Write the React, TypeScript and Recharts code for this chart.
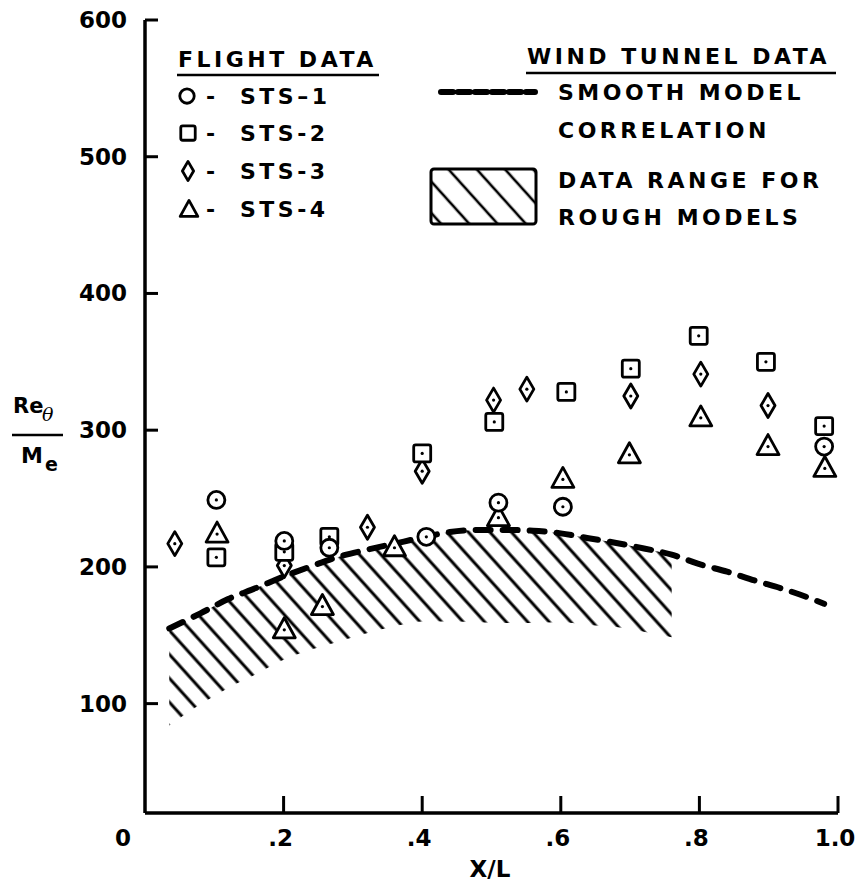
import { ComposedChart, Area, Line, Scatter, XAxis, YAxis } from 'recharts';

// flight data, X/L vs Re_theta / M_e
const sts1 = [
  { x: 0.103, y: 249 }, { x: 0.201, y: 219 }, { x: 0.266, y: 214 }, { x: 0.406, y: 222 },
  { x: 0.51, y: 247 }, { x: 0.603, y: 244 }, { x: 0.98, y: 288 },
];
const sts2 = [
  { x: 0.103, y: 207 }, { x: 0.201, y: 211 }, { x: 0.266, y: 222 }, { x: 0.4, y: 283 },
  { x: 0.504, y: 306 }, { x: 0.608, y: 328 }, { x: 0.701, y: 345 }, { x: 0.799, y: 369 },
  { x: 0.896, y: 350 }, { x: 0.98, y: 303 },
];
const sts3 = [
  { x: 0.043, y: 217 }, { x: 0.201, y: 201 }, { x: 0.321, y: 229 }, { x: 0.4, y: 270 },
  { x: 0.503, y: 322 }, { x: 0.551, y: 330 }, { x: 0.701, y: 325 }, { x: 0.802, y: 341 },
  { x: 0.899, y: 318 },
];
const sts4 = [
  { x: 0.104, y: 224 }, { x: 0.201, y: 154 }, { x: 0.256, y: 171 }, { x: 0.36, y: 214 },
  { x: 0.51, y: 236 }, { x: 0.603, y: 264 }, { x: 0.699, y: 282 }, { x: 0.802, y: 309 },
  { x: 0.899, y: 288 }, { x: 0.981, y: 272 },
];

// wind tunnel: smooth model curve and rough model band (lower edge)
const curveX = [0.035, 0.08, 0.12, 0.16, 0.2, 0.24, 0.28, 0.32, 0.36, 0.4, 0.44, 0.48, 0.52, 0.56, 0.6, 0.64, 0.68, 0.72, 0.76, 0.8, 0.84, 0.88, 0.92, 0.96, 0.98];
const smoothRe = [155, 166, 176.5, 184.5, 193, 200.5, 207.5, 212.5, 217, 221.5, 225.5, 227, 227, 226.5, 224.5, 221, 217.5, 213.5, 209, 202, 196.5, 190, 184, 177, 173];
const roughLow = [84, 99.5, 111.5, 121.5, 132, 139.5, 145.5, 151.5, 156.5, 160, 160, 159.5, 159, 159, 159.5, 157.5, 156, 152.5, 148.5];

const xTicks = [0, 0.2, 0.4, 0.6, 0.8, 1.0];
const xTickLabels = ['0', '.2', '.4', '.6', '.8', '1.0'];
const yTicks = [100, 200, 300, 400, 500, 600];
const yMin = 20;
const yMax = 600;

const curveData = curveX.map((x, i) => ({
  x,
  smooth: smoothRe[i],
  band: i < roughLow.length ? [roughLow[i], smoothRe[i]] : null,
}));

const FONT = '"DejaVu Sans", Arial, sans-serif';

const Dot = ({ cx, cy }: { cx: number; cy: number }) => <circle cx={cx} cy={cy} r={1.6} fill="#000" />;

const CircleMark = ({ cx, cy, s = 1, dot = true }: any) => (
  <g>
    <circle cx={cx} cy={cy} r={8.5 * s} fill="#fff" stroke="#000" strokeWidth={2.8} />
    {dot && <Dot cx={cx} cy={cy} />}
  </g>
);
const SquareMark = ({ cx, cy, s = 1, dot = true }: any) => (
  <g>
    <rect x={cx - 8.5 * s} y={cy - 8.5 * s} width={17 * s} height={17 * s} rx={2} fill="#fff" stroke="#000" strokeWidth={2.8} />
    {dot && <Dot cx={cx} cy={cy} />}
  </g>
);
const DiamondMark = ({ cx, cy, s = 1, dot = true }: any) => (
  <g>
    <path d={`M${cx},${cy - 12 * s} L${cx + 7 * s},${cy} L${cx},${cy + 12 * s} L${cx - 7 * s},${cy} Z`} fill="#fff" stroke="#000" strokeWidth={2.8} strokeLinejoin="round" />
    {dot && <Dot cx={cx} cy={cy} />}
  </g>
);
const TriangleMark = ({ cx, cy, s = 1, dot = true }: any) => (
  <g>
    <path d={`M${cx},${cy - 12 * s} L${cx + 11 * s},${cy + 8 * s} L${cx - 11 * s},${cy + 8 * s} Z`} fill="#fff" stroke="#000" strokeWidth={2.8} strokeLinejoin="round" />
    {dot && <Dot cx={cx} cy={cy} />}
  </g>
);

const YTick = (props: any) => {
  const { x, y, payload } = props;
  return (
    <g>
      <line x1={x} x2={x + 13} y1={y} y2={y} stroke="#000" strokeWidth={3} />
      <text x={x - 18} y={y} dy={8} textAnchor="end" fontFamily={FONT} fontWeight="bold" fontSize={23} fill="#000">
        {payload.value}
      </text>
    </g>
  );
};

const XTick = (props: any) => {
  const { x, y, payload, index } = props;
  const label = xTickLabels[index] ?? String(payload.value);
  if (payload.value === 0) {
    return (
      <text x={x - 22} y={y + 33} textAnchor="middle" fontFamily={FONT} fontWeight="bold" fontSize={23} fill="#000">
        {label}
      </text>
    );
  }
  return (
    <g>
      <line x1={x} x2={x} y1={y} y2={y - 17} stroke="#000" strokeWidth={3} />
      <text x={x - 3} y={y + 33} textAnchor="middle" fontFamily={FONT} fontWeight="bold" fontSize={23} fill="#000">
        {label}
      </text>
    </g>
  );
};

const txt = { fontFamily: FONT, fontWeight: 'bold' as const, fontSize: 22, letterSpacing: 3.5, fill: '#000' };

function LegendOverlay() {
  const rowY = [96, 133, 171, 209];
  return (
    <svg width={857} height={883} style={{ position: 'absolute', left: 0, top: 0, pointerEvents: 'none' }}>
      <defs>
        <pattern id="legendHatch" patternUnits="userSpaceOnUse" width="21" height="21" patternTransform="rotate(-42)">
          <line x1="10" y1="0" x2="10" y2="21" stroke="#000" strokeWidth="2.6" />
        </pattern>
      </defs>
      {/* flight data */}
      <text x={178} y={67} {...txt}>FLIGHT DATA</text>
      <line x1={177} x2={379} y1={75} y2={75} stroke="#000" strokeWidth={2.5} />
      <CircleMark cx={187} cy={rowY[0]} s={0.85} dot={false} />
      <SquareMark cx={188} cy={rowY[1]} s={0.85} dot={false} />
      <DiamondMark cx={188} cy={rowY[2]} s={0.8} dot={false} />
      <TriangleMark cx={189} cy={rowY[3] + 1} s={0.8} dot={false} />
      {['STS\u20131', 'STS-2', 'STS-3', 'STS-4'].map((t, i) => (
        <g key={t}>
          <text x={206} y={rowY[i] + 8} {...txt}>-</text>
          <text x={240} y={rowY[i] + 8} {...txt}>{t}</text>
        </g>
      ))}
      {/* wind tunnel data */}
      <text x={527} y={64} {...txt}>WIND TUNNEL DATA</text>
      <line x1={526} x2={836} y1={73} y2={73} stroke="#000" strokeWidth={2.5} />
      <line x1={441} x2={535} y1={92} y2={92} stroke="#000" strokeWidth={6} strokeDasharray="12 5" strokeLinecap="round" />
      <text x={558} y={100} {...txt}>SMOOTH MODEL</text>
      <text x={558} y={138} {...txt}>CORRELATION</text>
      <rect x={431} y={169} width={105} height={55} rx={3} fill="url(#legendHatch)" stroke="#000" strokeWidth={3} />
      <text x={558} y={188} {...txt}>DATA RANGE FOR</text>
      <text x={558} y={225} {...txt}>ROUGH MODELS</text>
      {/* axis titles */}
      <text x={490} y={877} textAnchor="middle" fontFamily={FONT} fontWeight="bold" fontSize={23} fill="#000">X/L</text>
      <text x={13} y={413} fontFamily={FONT} fontWeight="bold" fontSize={21} fill="#000">Re</text>
      <text x={42} y={421} fontFamily='"DejaVu Serif", serif' fontStyle="italic" fontSize={19} fill="#000">θ</text>
      <line x1={12} x2={63} y1={435} y2={435} stroke="#000" strokeWidth={2.5} />
      <text x={21} y={463} fontFamily={FONT} fontWeight="bold" fontSize={22} fill="#000">M</text>
      <text x={45} y={471} fontFamily={FONT} fontWeight="bold" fontSize={19} fill="#000">e</text>
    </svg>
  );
}

export default function App() {
  return (
    <div style={{ position: 'absolute', left: 0, top: 0, width: 857, height: 883, background: '#fff' }}>
      <ComposedChart width={857} height={883} data={curveData} margin={{ top: 20, right: 19, bottom: 50, left: 125 }}>
        <defs>
          <pattern id="hatch" patternUnits="userSpaceOnUse" width="16" height="16" patternTransform="rotate(-42)">
            <line x1="8" y1="0" x2="8" y2="16" stroke="#000" strokeWidth="3" />
          </pattern>
        </defs>
        <XAxis
          type="number"
          dataKey="x"
          domain={[0, 1]}
          ticks={xTicks}
          interval={0}
          height={20}
          tickSize={0}
          tickMargin={0}
          tickLine={false}
          axisLine={{ stroke: '#000', strokeWidth: 3.5 }}
          tick={<XTick />}
          allowDataOverflow
        />
        <YAxis
          type="number"
          domain={[yMin, yMax]}
          ticks={yTicks}
          interval={0}
          width={20}
          tickSize={0}
          tickMargin={0}
          tickLine={false}
          axisLine={{ stroke: '#000', strokeWidth: 3.5 }}
          tick={<YTick />}
          allowDataOverflow
        />
        <Area dataKey="band" type="monotone" stroke="none" fill="url(#hatch)" fillOpacity={1} isAnimationActive={false} />
        <Line dataKey="smooth" type="monotone" stroke="#000" strokeWidth={6} strokeDasharray="15 12" strokeLinecap="round" dot={false} isAnimationActive={false} />
        <Scatter data={sts4} dataKey="y" shape={(p: any) => <TriangleMark cx={p.cx} cy={p.cy} />} isAnimationActive={false} />
        <Scatter data={sts3} dataKey="y" shape={(p: any) => <DiamondMark cx={p.cx} cy={p.cy} />} isAnimationActive={false} />
        <Scatter data={sts2} dataKey="y" shape={(p: any) => <SquareMark cx={p.cx} cy={p.cy} />} isAnimationActive={false} />
        <Scatter data={sts1} dataKey="y" shape={(p: any) => <CircleMark cx={p.cx} cy={p.cy} />} isAnimationActive={false} />
      </ComposedChart>
      <LegendOverlay />
    </div>
  );
}
